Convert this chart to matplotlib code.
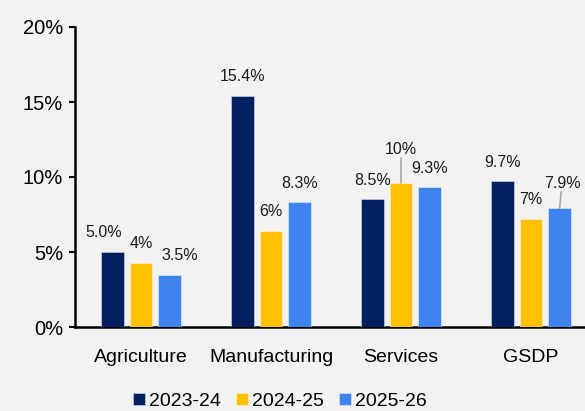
import numpy as np
import matplotlib
matplotlib.use("Agg")
import matplotlib.pyplot as plt
from matplotlib.ticker import FuncFormatter

plt.rcParams['font.family'] = ['Liberation Sans', 'DejaVu Sans']

categories = ['Agriculture', 'Manufacturing', 'Services', 'GSDP']
series_names = ['2023-24', '2024-25', '2025-26']
values_2324 = [5.0, 15.4, 8.5, 9.7]
values_2425 = [4.3, 6.4, 9.6, 7.2]
values_2526 = [3.5, 8.3, 9.3, 7.9]
labels_2324 = ['5.0%', '15.4%', '8.5%', '9.7%']
labels_2425 = ['4%', '6%', '10%', '7%']
labels_2526 = ['3.5%', '8.3%', '9.3%', '7.9%']

colors = ['#002060', '#FFC000', '#3F83F0']
bg = '#F2F2F2'

# label nudges (dx, dy in points) and which labels get a leader line
label_shift = {(0, 0): (-6, 0), (0, 2): (7, 0), (2, 1): (0, 10), (3, 2): (2, 4)}
leader = {(2, 1), (3, 2)}

fig = plt.figure(figsize=(5.85, 4.11), dpi=100, facecolor=bg)
ax = fig.add_axes([75 / 585, 84 / 411, 510 / 585, 300 / 411], facecolor=bg)

x = np.arange(len(categories))
step = 0.22
width = 0.175
all_vals = [values_2324, values_2425, values_2526]
all_labels = [labels_2324, labels_2425, labels_2526]

for s, (vals, labs) in enumerate(zip(all_vals, all_labels)):
    pos = x + (s - 1) * step
    ax.bar(pos, vals, width, color=colors[s], edgecolor='#FFFFFF80', linewidth=0.6,
           label=series_names[s], zorder=3)
    for i, (p, v, t) in enumerate(zip(pos, vals, labs)):
        dx, dy = label_shift.get((i, s), (0, 0))
        ax.annotate(t, (p, v), xytext=(dx, 8.5 + dy), textcoords='offset points',
                    ha='center', va='bottom', fontsize=11.5, color='#1a1a1a', zorder=5)
        if (i, s) in leader:
            ax.annotate('', (p, v), xytext=(dx * 0.6, 9 + dy), textcoords='offset points',
                        arrowprops=dict(arrowstyle='-', color='#A6A6A6', lw=1.2,
                                        shrinkA=1, shrinkB=0))

ax.set_ylim(0, 20)
ax.set_xlim(-0.508, 3.415)
ax.set_yticks([0, 5, 10, 15, 20])
ax.yaxis.set_major_formatter(FuncFormatter(lambda v, _: f"{v:.0f}%"))
ax.set_xticks(x)
ax.set_xticklabels(categories)
ax.tick_params(axis='y', labelsize=14.5, length=4.5, width=1.5, pad=4, colors='black')
ax.tick_params(axis='x', labelsize=14, length=0, pad=15.5)

for sp in ['top', 'right']:
    ax.spines[sp].set_visible(False)
for sp in ['left', 'bottom']:
    ax.spines[sp].set_linewidth(1.8)
    ax.spines[sp].set_color('black')

fig.legend(loc='center', bbox_to_anchor=(280 / 585, 1 - 401.5 / 411), ncol=3,
           frameon=False, fontsize=14, handlelength=0.6, handleheight=0.6,
           handletextpad=0.25, columnspacing=0.75, borderaxespad=0)

fig.savefig('out.png', dpi=100, facecolor=bg)
